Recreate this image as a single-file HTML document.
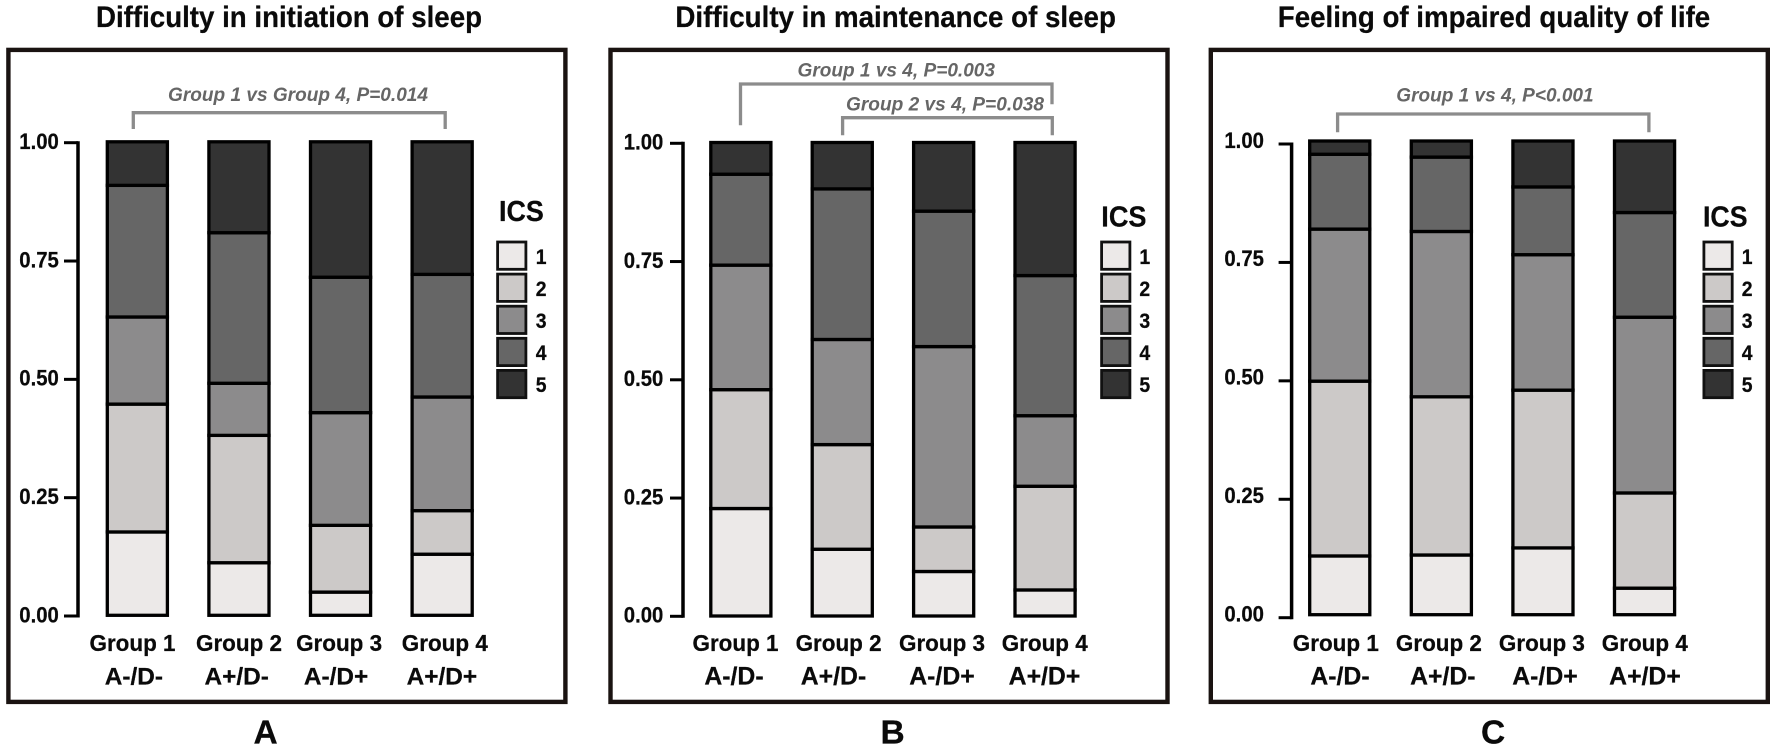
<!DOCTYPE html>
<html lang="en">
<head>
<meta charset="utf-8">
<title>Insomnia severity stacked bars</title>
<style>
html,body{margin:0;padding:0;background:#fff;width:1776px;height:750px;overflow:hidden}
svg{display:block}
text{font-family:"Liberation Sans",Arial,sans-serif;font-weight:700;fill:#0a0a0a;stroke:#0a0a0a;stroke-width:.25px}
text.note{font-style:italic;fill:#666;stroke:none;font-size:19px}
.frame{fill:#fff;stroke:#1a1311;stroke-width:4.4}
.bracket{fill:none;stroke:#8c8c8c;stroke-width:3.3}
</style>
</head>
<body>
<svg id="figure" width="1776" height="750" viewBox="0 0 1776 750" xmlns="http://www.w3.org/2000/svg">
  <rect width="1776" height="750" fill="#fff"/>

  <text x="96" y="27" font-size="29.5" textLength="386" lengthAdjust="spacingAndGlyphs">Difficulty in initiation of sleep</text>
  <text x="675.4" y="27" font-size="29.5" textLength="440.5" lengthAdjust="spacingAndGlyphs">Difficulty in maintenance of sleep</text>
  <text x="1277.8" y="27" font-size="29.5" textLength="432.4" lengthAdjust="spacingAndGlyphs">Feeling of impaired quality of life</text>

  <rect class="frame" x="8.4" y="49.9" width="557" height="652"/>
  <rect class="frame" x="610.5" y="49.9" width="557" height="652"/>
  <rect class="frame" x="1210.8" y="49.9" width="557" height="652"/>

  <text class="note" x="168" y="101" textLength="260" lengthAdjust="spacingAndGlyphs">Group 1 vs Group 4, P=0.014</text>
  <path class="bracket" d="M133.3 129V112.7H445.2V129"/>

  <text class="note" x="797.5" y="76.7" textLength="197.5" lengthAdjust="spacingAndGlyphs">Group 1 vs 4, P=0.003</text>
  <path class="bracket" d="M740.5 125.3V84H1052V104.3"/>
  <text class="note" x="846" y="110.7" textLength="198" lengthAdjust="spacingAndGlyphs">Group 2 vs 4, P=0.038</text>
  <path class="bracket" d="M842.6 135.3V117.7H1052.3V135.3"/>

  <text class="note" x="1396.3" y="101.7" textLength="197.3" lengthAdjust="spacingAndGlyphs">Group 1 vs 4, P&lt;0.001</text>
  <path class="bracket" d="M1337.6 132.3V114H1648.9V132.3"/>

  <text x="499" y="221" font-size="29" textLength="44.7" lengthAdjust="spacingAndGlyphs">ICS</text>
  <text x="1101.3" y="226.3" font-size="29" textLength="45.2" lengthAdjust="spacingAndGlyphs">ICS</text>
  <text x="1703" y="226.3" font-size="29" textLength="44.5" lengthAdjust="spacingAndGlyphs">ICS</text>

  <text x="253.5" y="743.3" font-size="33.5">A</text>
  <text x="880.5" y="743.3" font-size="33.5">B</text>
  <text x="1481" y="743.3" font-size="33.5">C</text>
</svg>

<script>
// ---- Chart data ----
const categories = ['Group 1', 'Group 2', 'Group 3', 'Group 4'];
const subgroups = ['A-/D-', 'A+/D-', 'A-/D+', 'A+/D+'];
const icsLevels = ['1', '2', '3', '4', '5'];
const yTickValues = [0, 0.25, 0.5, 0.75, 1];
const yTickLabels = ['0.00', '0.25', '0.50', '0.75', '1.00'];

// Panel A: difficulty in initiation of sleep (share per group)
const initiationIcs1 = [0.176, 0.111, 0.049, 0.129];
const initiationIcs2 = [0.270, 0.269, 0.141, 0.092];
const initiationIcs3 = [0.184, 0.110, 0.238, 0.240];
const initiationIcs4 = [0.278, 0.318, 0.286, 0.259];
const initiationIcs5 = [0.092, 0.192, 0.286, 0.280];

// Panel B: difficulty in maintenance of sleep
const maintenanceIcs1 = [0.227, 0.141, 0.094, 0.055];
const maintenanceIcs2 = [0.251, 0.221, 0.094, 0.219];
const maintenanceIcs3 = [0.263, 0.222, 0.381, 0.149];
const maintenanceIcs4 = [0.192, 0.318, 0.286, 0.296];
const maintenanceIcs5 = [0.067, 0.098, 0.145, 0.281];

// Panel C: feeling of impaired quality of life
const qualityIcs1 = [0.124, 0.126, 0.141, 0.056];
const qualityIcs2 = [0.369, 0.334, 0.333, 0.201];
const qualityIcs3 = [0.321, 0.349, 0.286, 0.371];
const qualityIcs4 = [0.158, 0.157, 0.143, 0.221];
const qualityIcs5 = [0.028, 0.034, 0.097, 0.151];

// ---- Layout and drawing ----
const svgNS = 'http://www.w3.org/2000/svg';
const figure = document.getElementById('figure');
const icsFill = { '1': '#ece9e8', '2': '#ccc9c8', '3': '#8c8b8c', '4': '#666666', '5': '#333333' };

const panelA = {
  key: 'a',
  series: [initiationIcs1, initiationIcs2, initiationIcs3, initiationIcs4, initiationIcs5],
  layout: {
    barLeft: 107.3, barStep: 101.6, barWidth: 60.1, barZero: 615.3, barFull: 141.8,
    axisX: 78, tickLeft: 64, axisZero: 616, axisFull: 142.7, tickTextRight: 58.8, tickTextDy: 6,
    nameCenters: { x0: 132.5, x1: 239, x2: 339.1, x3: 444.8 }, nameSize: 23,
    subCenters: { x0: 133.9, x1: 236.7, x2: 336.1, x3: 441.9 }, subSize: 24.4,
    legendX: 497.6, legendTextX: 535.8
  }
};
const panelB = {
  key: 'b',
  series: [maintenanceIcs1, maintenanceIcs2, maintenanceIcs3, maintenanceIcs4, maintenanceIcs5],
  layout: {
    barLeft: 710.8, barStep: 101.4, barWidth: 60.1, barZero: 616, barFull: 142.5,
    axisX: 683, tickLeft: 670, axisZero: 616.3, axisFull: 143.3, tickTextRight: 663.3, tickTextDy: 6,
    nameCenters: { x0: 735.5, x1: 838.6, x2: 942, x3: 1044.7 }, nameSize: 23.2,
    subCenters: { x0: 734, x1: 833.5, x2: 942, x3: 1044.5 }, subSize: 24.8,
    legendX: 1101.6, legendTextX: 1139.4
  }
};
const panelC = {
  key: 'c',
  series: [qualityIcs1, qualityIcs2, qualityIcs3, qualityIcs4, qualityIcs5],
  layout: {
    barLeft: 1309.7, barStep: 101.6, barWidth: 60.1, barZero: 614.7, barFull: 141,
    axisX: 1291.6, tickLeft: 1278.6, axisZero: 617.7, axisFull: 144, tickTextRight: 1263.9, tickTextDy: 3.5,
    nameCenters: { x0: 1335.8, x1: 1438.9, x2: 1541.9, x3: 1644.8 }, nameSize: 23.2,
    subCenters: { x0: 1340, x1: 1442.8, x2: 1545, x3: 1645 }, subSize: 24.8,
    legendX: 1703.9, legendTextX: 1741.8
  }
};

function svgEl(parent, tag, attrs, content) {
  const node = document.createElementNS(svgNS, tag);
  Object.keys(attrs).forEach(function (k) { node.setAttribute(k, attrs[k]); });
  if (content !== undefined) node.textContent = content;
  parent.appendChild(node);
  return node;
}

function drawPanel(panel) {
  const L = panel.layout;
  const barY = function (v) { return L.barZero - (L.barZero - L.barFull) * v; };
  const axisY = function (v) { return L.axisZero - (L.axisZero - L.axisFull) * v; };
  const barX = function (i) { return L.barLeft + L.barStep * i; };

  const group = svgEl(figure, 'g', {});
  
  

  const axisLine = svgEl(group, 'line', {
    x1: L.axisX, x2: L.axisX, y1: axisY(1) - 1.5, y2: axisY(0) + 1.5, stroke: '#000', 'stroke-width': 3.5
  });
  
  

  yTickValues.forEach(function (value, i) {
    const tick = svgEl(group, 'line', {
      x1: L.tickLeft, x2: L.axisX, y1: axisY(value), y2: axisY(value), stroke: '#000', 'stroke-width': 3
    });
    
    
    const label = svgEl(group, 'text', {
      x: L.tickTextRight - 39.5, y: axisY(value) + L.tickTextDy + 0.3, 'font-size': 22,
      textLength: 39.5, lengthAdjust: 'spacingAndGlyphs'
    }, yTickLabels[i]);
    
    
  });

  categories.forEach(function (category, c) {
    let cumulative = 0;
    panel.series.forEach(function (values, s) {
      const start = cumulative;
      cumulative += values[c];
      const top = barY(cumulative);
      const bar = svgEl(group, 'rect', {
        x: barX(c), y: top, width: L.barWidth, height: barY(start) - top,
        fill: icsFill[icsLevels[s]], stroke: '#000', 'stroke-width': 3.3
      });
      
      
    });
    const nameLabel = svgEl(group, 'text', {
      x: L.nameCenters['x' + c] - 43, y: 651, 'font-size': L.nameSize,
      textLength: 86, lengthAdjust: 'spacingAndGlyphs'
    }, category);
    
    
    const subLabel = svgEl(group, 'text', {
      x: L.subCenters['x' + c], y: 684.3, 'text-anchor': 'middle', 'font-size': L.subSize
    }, subgroups[c]);
    
    
  });

  icsLevels.forEach(function (level, i) {
    const top = 242 + 32.1 * i;
    const swatch = svgEl(group, 'rect', {
      x: L.legendX, y: top, width: 28.3, height: 27.3,
      fill: icsFill[level], stroke: '#111', 'stroke-width': 2.8
    });
    
    
    const text = svgEl(group, 'text', {
      x: L.legendTextX, y: top + 21.8, 'font-size': 21.5,
      textLength: 10.8, lengthAdjust: 'spacingAndGlyphs'
    }, level);
    
    
  });
}

drawPanel(panelA);
drawPanel(panelB);
drawPanel(panelC);
</script>
</body>
</html>
